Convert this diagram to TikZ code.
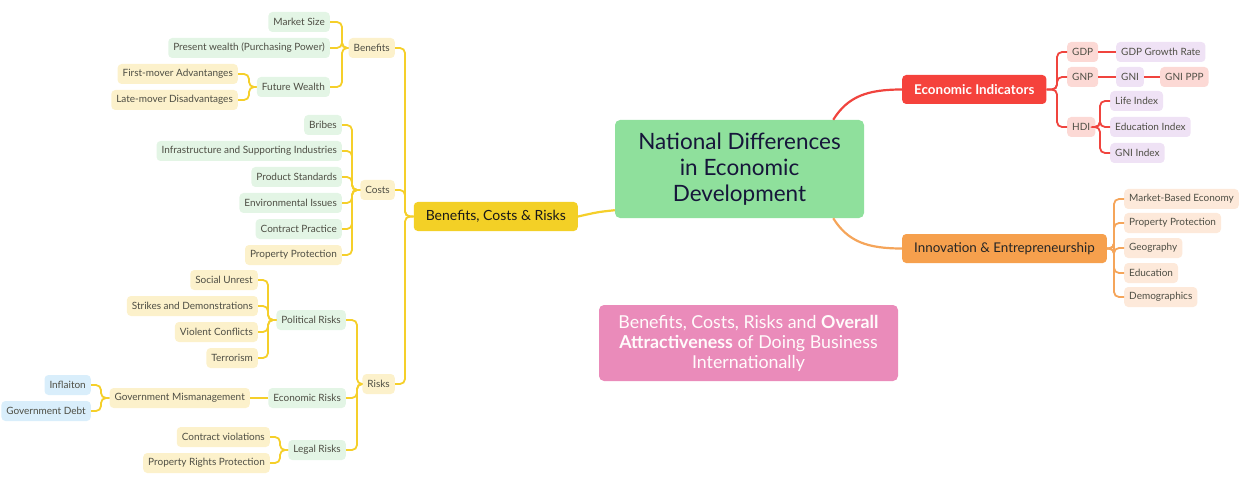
\documentclass[tikz,border=0pt]{standalone}
\usepackage{fontspec}
\setmainfont{Lato}
\usetikzlibrary{calc}
\definecolor{txt}{HTML}{4E4E44}
\definecolor{ylin}{HTML}{F5CF2A}
\definecolor{rlin}{HTML}{F0443E}
\definecolor{olin}{HTML}{F5A55A}
\definecolor{fyel}{HTML}{FCF1CB}
\definecolor{fgrn}{HTML}{E3F5E5}
\definecolor{fblu}{HTML}{D9EEFB}
\definecolor{fred}{HTML}{FCD9D5}
\definecolor{fpur}{HTML}{EFE2F5}
\definecolor{fpch}{HTML}{FDE9DA}
\definecolor{cgrn}{HTML}{8FE09C}
\definecolor{cpnk}{HTML}{EA8BBA}
\definecolor{cred}{HTML}{F5423C}
\definecolor{corg}{HTML}{F6A04D}
\definecolor{cyel}{HTML}{F3D026}
\definecolor{navy}{HTML}{16163A}
\tikzset{
  leaf/.style={rounded corners=4pt, inner xsep=5pt, inner ysep=0pt, minimum height=20pt,
    font=\fontsize{10}{12}\selectfont, text=txt},
  ly/.style={leaf, fill=fyel},
  lg/.style={leaf, fill=fgrn},
  lb/.style={leaf, fill=fblu},
  lr/.style={leaf, fill=fred},
  lp/.style={leaf, fill=fpur},
  lo/.style={leaf, fill=fpch},
  ycon/.style={draw=ylin, line width=1.8pt, rounded corners=5pt},
  rcon/.style={draw=rlin, line width=1.8pt, rounded corners=5pt},
  ocon/.style={draw=olin, line width=1.8pt, rounded corners=5pt},
  topic/.style={rounded corners=4pt, minimum height=29pt, inner xsep=12pt, inner ysep=0pt,
    font=\fontsize{13.4}{15}\selectfont},
}
\begin{document}
\begin{tikzpicture}[x=1pt,y=-1pt]
\useasboundingbox (0,0) rectangle (1255,481);
% central
\node[fill=cgrn, rounded corners=5pt, minimum width=249pt, minimum height=98pt, align=center,
  font=\fontsize{22.5}{26}\selectfont, text=navy] (center) at (739.5,169)
  {National Differences\\in Economic\\Development};
\node[fill=cpnk, rounded corners=5pt, minimum width=299pt, minimum height=76pt, align=center,
  font=\fontsize{17.8}{20}\selectfont, text=white!94!pink] (note) at (748.5,343)
  {Benefits, Costs, Risks and \textbf{Overall}\\\textbf{Attractiveness} of Doing Business\\Internationally};
% main topics
\node[topic, fill=cyel, anchor=east, text=black!90, font=\fontsize{14}{16}\selectfont] (bcr) at (578,216.5) {Benefits, Costs \& Risks};
\node[topic, fill=cred, anchor=west, text=white, font=\fontsize{13.4}{15}\selectfont\bfseries] (ei) at (902,89.5) {Economic Indicators};
\node[topic, fill=corg, anchor=west, text=black!85] (inn) at (902,248.5) {Innovation \& Entrepreneurship};
\draw[draw=ylin, line width=2.2pt] ($(center.south west)+(0,-8)$) .. controls (598,212) .. (bcr.east);
\draw[draw=rlin, line width=2.2pt] ($(center.north east)+(-31,0)$) .. controls (848,96) and (868,89.5) .. (ei.west);
\draw[draw=olin, line width=2.2pt] ($(center.south east)+(-31,0)$) .. controls (848,242) and (868,248.5) .. (inn.west);
% economic indicators
\node[lr, anchor=west] (gdp) at (1067,52) {GDP};
\node[lr, anchor=west] (gnp) at (1067,77) {GNP};
\node[lr, anchor=west] (hdi) at (1067,127) {HDI};
\node[lp, anchor=west] (gdpg) at (1116,52) {GDP Growth Rate};
\node[lp, anchor=west] (gni) at (1116,77) {GNI};
\node[lr, anchor=west] (gnippp) at (1160,77) {GNI PPP};
\node[lp, anchor=west] (life) at (1110,101) {Life Index};
\node[lp, anchor=west] (edui) at (1110,127) {Education Index};
\node[lp, anchor=west] (gnii) at (1110,153) {GNI Index};
\coordinate (je) at (1057,0);
\coordinate (jh) at (1100,0);
\foreach \c in {gdp,gnp,hdi} \draw[rcon] (ei.east) -- (ei.east -| je) |- (\c.west);
\draw[rcon] (gdp.east) -- (gdpg.west);
\draw[rcon] (gnp.east) -- (gni.west);
\draw[rcon] (gni.east) -- (gnippp.west);
\foreach \c in {life,edui,gnii} \draw[rcon] (hdi.east) -- (hdi.east -| jh) |- (\c.west);
% innovation
\node[lo, anchor=west] (mbe) at (1124,199) {Market-Based Economy};
\node[lo, anchor=west] (pp2) at (1124,223) {Property Protection};
\node[lo, anchor=west] (geo) at (1124,248) {Geography};
\node[lo, anchor=west] (edu) at (1124,273) {Education};
\node[lo, anchor=west] (dem) at (1124,297) {Demographics};
\coordinate (ji) at (1114,0);
\foreach \c in {mbe,pp2,geo,edu,dem} \draw[ocon] (inn.east) -- (inn.east -| ji) |- (\c.west);
% left: level 1
\node[ly, anchor=east] (ben) at (395,48) {Benefits};
\node[ly, anchor=east] (cost) at (395,190) {Costs};
\node[ly, anchor=east] (risk) at (395,384) {Risks};
\coordinate (jb) at (405,0);
\foreach \c in {ben,cost,risk} \draw[ycon] (bcr.west) -- (bcr.west -| jb) |- (\c.east);
% benefits
\node[lg, anchor=east] (ms) at (330,22) {Market Size};
\node[lg, anchor=east] (pw) at (330,48) {Present wealth (Purchasing Power)};
\node[lg, anchor=east] (fw) at (330,87) {Future Wealth};
\coordinate (jben) at (342,0);
\foreach \c in {ms,pw,fw} \draw[ycon] (ben.west) -- (ben.west -| jben) |- (\c.east);
\node[ly, anchor=east] (fma) at (238,74) {First-mover Advantanges};
\node[ly, anchor=east] (lmd) at (238,100) {Late-mover Disadvantages};
\coordinate (jfw) at (249,0);
\foreach \c in {fma,lmd} \draw[ycon] (fw.west) -- (fw.west -| jfw) |- (\c.east);
% costs
\node[lg, anchor=east] (bri) at (342,125) {Bribes};
\node[lg, anchor=east] (inf) at (342,151) {Infrastructure and Supporting Industries};
\node[lg, anchor=east] (ps) at (342,177) {Product Standards};
\node[lg, anchor=east] (env) at (342,203) {Environmental Issues};
\node[lg, anchor=east] (cp) at (342,229) {Contract Practice};
\node[ly, anchor=east] (pp1) at (342,255) {Property Protection};
\coordinate (jc) at (352,0);
\foreach \c in {bri,inf,ps,env,cp,pp1} \draw[ycon] (cost.west) -- (cost.west -| jc) |- (\c.east);
% risks
\node[lg, anchor=east] (pol) at (346,320) {Political Risks};
\node[lg, anchor=east] (eco) at (346,398) {Economic Risks};
\node[lg, anchor=east] (leg) at (346,450) {Legal Risks};
\coordinate (jr) at (357,0);
\foreach \c in {pol,eco,leg} \draw[ycon] (risk.west) -- (risk.west -| jr) |- (\c.east);
\node[ly, anchor=east] (su) at (258,280) {Social Unrest};
\node[ly, anchor=east] (sd) at (258,306) {Strikes and Demonstrations};
\node[ly, anchor=east] (vc) at (258,332) {Violent Conflicts};
\node[ly, anchor=east] (ter) at (258,358) {Terrorism};
\coordinate (jp) at (268,0);
\foreach \c in {su,sd,vc,ter} \draw[ycon] (pol.west) -- (pol.west -| jp) |- (\c.east);
\node[ly, anchor=east] (gm) at (250,398) {Government Mismanagement};
\draw[ycon] (eco.west) -- (gm.east);
\node[lb, anchor=east] (infl) at (91,385) {Inflaiton};
\node[lb, anchor=east] (gd) at (91,411) {Government Debt};
\coordinate (jg) at (101,0);
\foreach \c in {infl,gd} \draw[ycon] (gm.west) -- (gm.west -| jg) |- (\c.east);
\node[ly, anchor=east] (cv) at (270,437) {Contract violations};
\node[ly, anchor=east] (prp) at (270,463) {Property Rights Protection};
\coordinate (jl) at (280,0);
\foreach \c in {cv,prp} \draw[ycon] (leg.west) -- (leg.west -| jl) |- (\c.east);
\end{tikzpicture}
\end{document}
